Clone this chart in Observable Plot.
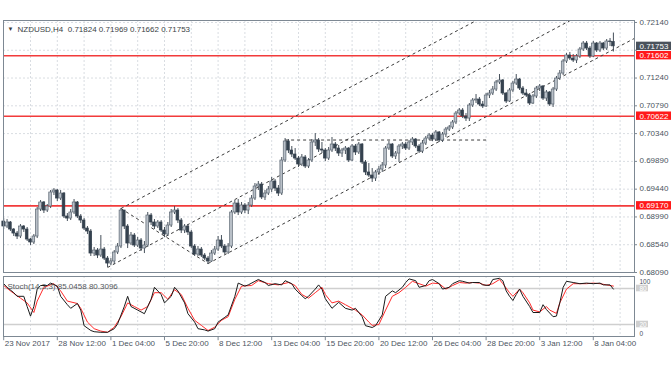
<!DOCTYPE html>
<html><head><meta charset="utf-8">
<script src="https://cdn.jsdelivr.net/npm/d3@7"></script>
<script src="https://cdn.jsdelivr.net/npm/@observablehq/plot@0.6"></script>
<style>
body{margin:0;background:#fff;}
#wrap{position:relative;width:672px;height:372px;overflow:hidden;background:#fff;}
#wrap svg{position:absolute;left:0;}
</style></head><body><div id="wrap"></div>
<script>
// ---------- data ----------
const symbol = "NZDUSD", timeframe = "H4";
const firstOpen = 0.68916;
const closes = [
0.68835,0.68900,0.68786,0.68721,0.68673,0.68835,0.68786,0.68624,0.68576,0.68673,
0.69110,0.69224,0.69094,0.69159,0.69386,0.69418,0.69288,0.69369,0.68997,0.68964,
0.69062,0.69224,0.68997,0.68932,0.68802,0.68754,0.68397,0.68446,0.68365,0.68462,
0.68316,0.68235,0.68268,0.68414,0.68511,0.69094,0.68835,0.68559,0.68689,0.68527,
0.68608,0.68478,0.68527,0.69013,0.68900,0.68835,0.68900,0.68770,0.68705,0.68851,
0.69062,0.69094,0.68932,0.68770,0.68835,0.68738,0.68511,0.68381,0.68462,0.68365,
0.68316,0.68268,0.68397,0.68462,0.68608,0.68511,0.68414,0.68511,0.69062,0.69207,
0.69062,0.69175,0.69094,0.69175,0.69288,0.69483,0.69515,0.69305,0.69369,0.69434,
0.69564,0.69450,0.69369,0.69904,0.70212,0.70066,0.70001,0.69936,0.69839,0.69953,
0.69807,0.69904,0.70196,0.70228,0.70082,0.70066,0.69936,0.70066,0.70163,0.70098,
0.70017,0.70066,0.70098,0.69904,0.70131,0.70034,0.70163,0.69872,0.69710,0.69661,
0.69612,0.69710,0.69758,0.69823,0.70098,0.70163,0.69969,0.70017,0.70131,0.70163,
0.70098,0.70196,0.70244,0.70131,0.70050,0.70179,0.70260,0.70309,0.70244,0.70358,
0.70228,0.70325,0.70406,0.70439,0.70520,0.70665,0.70714,0.70617,0.70584,0.70795,
0.70876,0.70892,0.70811,0.70779,0.70957,0.70989,0.71054,0.71168,0.71200,0.70989,
0.70860,0.71038,0.71151,0.71216,0.71070,0.70989,0.70957,0.70827,0.70941,0.71070,
0.71103,0.70908,0.71006,0.70811,0.71054,0.71232,0.71313,0.71508,0.71605,0.71556,
0.71524,0.71589,0.71702,0.71799,0.71718,0.71589,0.71799,0.71686,0.71799,0.71718,
0.71832,0.71824,0.71753];
const highs = [
0.68964,0.68948,0.68916,0.68802,0.68754,0.68867,0.68851,0.68819,0.68640,0.68705,
0.69143,0.69256,0.69240,0.69191,0.69418,0.69450,0.69434,0.69418,0.69386,0.69045,
0.69110,0.69272,0.69240,0.69029,0.68964,0.68835,0.68786,0.68495,0.68478,0.68689,
0.68495,0.68349,0.68316,0.68446,0.68559,0.69126,0.69094,0.68867,0.68738,0.68721,
0.68657,0.68640,0.68592,0.69062,0.69045,0.68948,0.68932,0.68932,0.68819,0.68900,
0.69110,0.69159,0.69126,0.68964,0.68867,0.68867,0.68770,0.68543,0.68511,0.68495,
0.68397,0.68349,0.68446,0.68511,0.68673,0.68689,0.68543,0.68559,0.69094,0.69256,
0.69272,0.69224,0.69207,0.69224,0.69337,0.69531,0.69564,0.69548,0.69418,0.69483,
0.69629,0.69596,0.69499,0.69953,0.70260,0.70244,0.70131,0.70098,0.69969,0.70001,
0.69985,0.69936,0.70244,0.70341,0.70260,0.70196,0.70098,0.70115,0.70277,0.70196,
0.70147,0.70098,0.70131,0.70115,0.70163,0.70163,0.70196,0.70179,0.69904,0.69855,
0.69774,0.69742,0.69807,0.69872,0.70131,0.70212,0.70179,0.70050,0.70163,0.70196,
0.70196,0.70228,0.70277,0.70260,0.70163,0.70228,0.70293,0.70341,0.70341,0.70390,
0.70374,0.70358,0.70439,0.70471,0.70552,0.70698,0.70746,0.70746,0.70665,0.70827,
0.70908,0.70973,0.70925,0.70860,0.70989,0.71038,0.71103,0.71200,0.71297,0.71216,
0.71006,0.71070,0.71184,0.71297,0.71232,0.71103,0.71054,0.70989,0.70973,0.71103,
0.71135,0.71119,0.71038,0.71022,0.71087,0.71265,0.71362,0.71540,0.71637,0.71654,
0.71621,0.71621,0.71735,0.71832,0.71832,0.71751,0.71832,0.71816,0.71832,0.71816,
0.71864,0.71880,0.71969];
const lows = [
0.68786,0.68802,0.68754,0.68673,0.68624,0.68640,0.68738,0.68592,0.68527,0.68543,
0.68640,0.69078,0.69045,0.69062,0.69126,0.69337,0.69240,0.69256,0.68964,0.68916,
0.68932,0.69029,0.68964,0.68883,0.68770,0.68705,0.68349,0.68349,0.68316,0.68333,
0.68284,0.68171,0.68203,0.68219,0.68381,0.68478,0.68786,0.68478,0.68527,0.68495,
0.68495,0.68430,0.68397,0.68495,0.68851,0.68786,0.68802,0.68738,0.68657,0.68673,
0.68819,0.69029,0.68883,0.68721,0.68721,0.68689,0.68478,0.68349,0.68349,0.68333,
0.68284,0.68219,0.68252,0.68365,0.68430,0.68478,0.68381,0.68381,0.68478,0.69029,
0.69013,0.69029,0.69045,0.69029,0.69143,0.69256,0.69418,0.69272,0.69256,0.69337,
0.69386,0.69402,0.69321,0.69337,0.69872,0.70017,0.69953,0.69904,0.69791,0.69807,
0.69774,0.69774,0.69872,0.70131,0.70034,0.70017,0.69888,0.69904,0.70034,0.70050,
0.69969,0.69953,0.70001,0.69872,0.69888,0.69985,0.70001,0.69839,0.69661,0.69629,
0.69548,0.69564,0.69661,0.69710,0.69774,0.70066,0.69936,0.69920,0.69872,0.70082,
0.70066,0.70066,0.70147,0.70098,0.70017,0.70017,0.70147,0.70228,0.70212,0.70212,
0.70196,0.70196,0.70277,0.70374,0.70406,0.70487,0.70633,0.70584,0.70536,0.70536,
0.70763,0.70827,0.70779,0.70746,0.70763,0.70908,0.70957,0.71022,0.71135,0.70957,
0.70827,0.70844,0.71006,0.71119,0.71038,0.70957,0.70925,0.70795,0.70811,0.70908,
0.71022,0.70876,0.70860,0.70779,0.70763,0.71022,0.71200,0.71281,0.71475,0.71524,
0.71492,0.71475,0.71556,0.71670,0.71686,0.71556,0.71573,0.71654,0.71654,0.71686,
0.71686,0.71751,0.71662];

// horizontal support / resistance levels (red)
const levels = [0.71602, 0.70622, 0.69170];
// price axis grid ticks
const priceTicks = [0.72140,0.71690,0.71240,0.70790,0.70340,0.69890,0.69440,0.68990,0.68540,0.68090];
// time axis labels (bar index of each label)
const timeLabels = ["23 Nov 2017","28 Nov 12:00","1 Dec 04:00","5 Dec 20:00","8 Dec 12:00","13 Dec 04:00","15 Dec 20:00","20 Dec 12:00","26 Dec 04:00","28 Dec 20:00","3 Jan 12:00","8 Jan 04:00"];
const timeLabelBars = [0,16,32,48,64,80,96,112,128,144,160,176];
// drawn trend lines: anchor bar/price pairs, ray = extends to the right
const lineBar1 = [35, 31, 61, 35, 84];
const linePrice1 = [0.69126, 0.68171, 0.68235, 0.69126, 0.70236];
const lineBar2 = [140, 168, 182, 61, 144];
const linePrice2 = [0.72140, 0.72140, 0.71702, 0.68235, 0.70236];
const lineRay = [true, true, true, false, false];

// Stochastic (14,3,3): [bar, value]
const stochLabel = "Stoch(14,3,3) 85.0458 80.3096";
const stochLevels = [80, 20];
const stochMax = 100, stochMin = 0;
const kPoints = [[0,88],[1,82],[3,73],[4,67],[6,67],[7,50],[8,34],[9,50],[10,79],[11,85],[13,85],[14,89],[16,84],[17,67],[19,53],[20,47],[22,55],[23,44],[24,18],[26,10],[27,8],[29,7],[31,7],[33,13],[34,21],[36,50],[37,67],[38,50],[40,44],[41,41],[42,38],[44,62],[45,82],[47,70],[48,56],[50,67],[51,82],[52,76],[54,56],[55,38],[57,24],[58,13],[60,11],[61,9],[63,13],[64,24],[66,32],[67,36],[69,67],[70,89],[72,84],[73,86],[75,92],[76,95],[78,90],[79,85],[81,88],[83,86],[84,93],[86,88],[87,79],[89,68],[90,63],[91,67],[93,79],[94,86],[95,79],[96,63],[98,47],[100,57],[102,47],[104,44],[105,47],[107,33],[108,18],[110,15],[111,18],[113,36],[114,67],[116,76],[117,73],[119,82],[120,90],[121,96],[123,93],[124,82],[126,85],[127,93],[128,95],[130,88],[131,79],[133,82],[134,88],[136,93],[137,92],[139,89],[140,90],[142,90],[143,86],[145,85],[146,95],[148,97],[149,93],[150,76],[151,67],[152,60],[153,70],[154,79],[155,67],[157,50],[158,40],[160,40],[161,53],[162,45],[164,33],[165,34],[166,56],[167,82],[168,92],[170,90],[172,88],[174,89],[176,88],[178,89],[179,86],[181,86],[182,79]];
const dPoints = [[0,85],[2,76],[5,64],[7,56],[9,40],[10,59],[12,82],[15,88],[17,76],[19,59],[22,55],[23,47],[25,24],[27,13],[29,9],[31,7],[33,15.5],[35,33],[37,56],[39,50],[41,44],[43,50],[45,73],[47,73],[49,62],[51,78],[53,70],[55,47],[57,27],[59,18.5],[61,10],[63,15.5],[65,27],[67,33],[69,62],[71,84],[74,85],[76,93],[79,88],[82,86],[85,90],[87,85],[89,70],[91,64],[93,73],[95,82],[96,70],[98,56],[100,59],[102,53],[104,47],[105,44],[107,36],[109,24],[110,18.5],[112,20],[114,44],[116,67],[118,73],[120,82],[122,92],[124,88],[126,84],[128,89],[130,88],[132,79],[134,85],[136,90],[138,89],[140,90],[142,89],[144,85],[146,88],[148,95],[149,88],[151,73],[152,67],[154,79],[155,73],[157,56],[158,44],[160,41],[162,50],[163,44],[165,38.5],[166,56],[168,79],[170,88],[172,88],[174,88],[176,89],[178,88],[180,86],[182,84]];

// ---------- build ----------
const bars = closes.map((c, i) => ({i, open: i === 0 ? firstOpen : closes[i-1], high: highs[i], low: lows[i], close: c}));
const last = bars[bars.length - 1];
const FONT = '"Liberation Sans", Arial, sans-serif';
const TXT = "#4b5460";
const xDomain = [-0.06, 188.3];
const pxPerBar = 631 / (xDomain[1] - xDomain[0]);
const bx = px => px / pxPerBar;
const yDomain = [0.68090, 0.72172];
const pxPerPrice = 252 / (yDomain[1] - yDomain[0]);
const bp = px => px / pxPerPrice;
const gridBars = d3.range(8, 188, 8);

const lines = lineBar1.map((b1, k) => {
  const b2 = lineBar2[k], p1 = linePrice1[k], p2 = linePrice2[k];
  const slope = (p2 - p1) / (b2 - b1);
  const end = lineRay[k] ? xDomain[1] + 2 : b2;
  return {x1: b1, y1: p1, x2: end, y2: p1 + slope * (end - b1)};
});

const boxX1 = xDomain[1] + bx(2), boxX2 = xDomain[1] + bx(37);
const priceBoxes = [
  {p: last.close, fill: "#4a525c"},
  ...levels.map(p => ({p, fill: "#ff1a1a"}))
];
// tick labels that sit under a price box are covered (not shown)
const priceLabels = priceTicks.filter(t => priceBoxes.every(b => Math.abs(b.p - t) > bp(7)));

const main = Plot.plot({
  width: 672, height: 276,
  marginLeft: 3, marginRight: 38, marginTop: 20, marginBottom: 4,
  x: {domain: xDomain, axis: null},
  y: {domain: yDomain, axis: null},
  style: {fontFamily: FONT, fontSize: "8px", background: "transparent", overflow: "visible"},
  marks: [
    Plot.ruleY(priceTicks, {stroke: "#d9dde2", strokeDasharray: "2,2"}),
    Plot.ruleX(gridBars, {stroke: "#d9dde2", strokeDasharray: "2,2"}),
    Plot.ruleY(levels, {stroke: "#f23b3b", strokeWidth: 1.6}),
    Plot.link(lines, {x1: "x1", y1: "y1", x2: "x2", y2: "y2", stroke: "#3c3c3c", strokeWidth: 1, strokeDasharray: "3,3", clip: true}),
    Plot.ruleX(bars, {x: "i", y1: "low", y2: "high", stroke: "#46505b", strokeWidth: 1}),
    Plot.rect(bars, {x1: d => d.i - 0.4, x2: d => d.i + 0.4, y1: "open", y2: "close",
      fill: d => d.close >= d.open ? "#b9c0c8" : "#35424f",
      stroke: d => d.close >= d.open ? "#5d6874" : "#35424f", strokeWidth: 0.7}),
    Plot.frame({stroke: "#7d8893"}),
    Plot.ruleY(priceTicks, {x1: xDomain[1], x2: xDomain[1] + bx(3), stroke: "#7d8893"}),
    Plot.text(priceLabels, {y: d => d, frameAnchor: "right", dx: 5, dy: -0.5, textAnchor: "start", text: d => d.toFixed(5), fill: TXT, fontSize: 8}),
    Plot.rect(priceBoxes, {x1: boxX1, x2: boxX2, y1: d => d.p - bp(4.2), y2: d => d.p + bp(4.2), fill: "fill"}),
    Plot.text(priceBoxes, {y: "p", frameAnchor: "right", dx: 5, textAnchor: "start", text: d => d.p.toFixed(5), fill: "#fff", fontSize: 8}),
    Plot.text(["\u25BC"], {frameAnchor: "top-left", dx: 4, dy: 6, fill: "#3a3a3a", fontSize: 6}),
    Plot.text([`${symbol},${timeframe}  ${last.open.toFixed(5)} ${last.high.toFixed(5)} ${last.low.toFixed(5)} ${last.close.toFixed(5)}`],
      {frameAnchor: "top-left", dx: 14, dy: 6, textAnchor: "start", fill: "#3a3f45", fontSize: 8})
  ]
});
main.style.top = "0px";

const stoch = Plot.plot({
  width: 672, height: 100,
  marginLeft: 3, marginRight: 38, marginTop: 4, marginBottom: 36,
  x: {domain: xDomain, axis: null},
  y: {domain: [stochMin, stochMax], axis: null},
  style: {fontFamily: FONT, fontSize: "8px", background: "transparent", overflow: "visible"},
  marks: [
    Plot.ruleX(gridBars, {stroke: "#d9dde2", strokeDasharray: "2,2"}),
    Plot.ruleY(stochLevels, {stroke: "#cfcfcf", strokeWidth: 1.6}),
    Plot.line(dPoints, {x: d => d[0], y: d => d[1], stroke: "#ff2a2a", strokeWidth: 1}),
    Plot.line(kPoints, {x: d => d[0], y: d => d[1], stroke: "#1a1a1a", strokeWidth: 1}),
    Plot.frame({stroke: "#7d8893"}),
    Plot.text([stochLabel], {frameAnchor: "top-left", dx: 4, dy: 7, textAnchor: "start", fill: "#55595e", fontSize: 8}),
    Plot.text([stochMax], {y: d => d, frameAnchor: "right", dx: 5, dy: 5, textAnchor: "start", text: d => String(d), fill: TXT, fontSize: 6.5}),
    Plot.text([stochMin], {y: d => d, frameAnchor: "right", dx: 5, dy: -3, textAnchor: "start", text: d => String(d), fill: TXT, fontSize: 6.5}),
    Plot.rect(stochLevels, {x1: boxX1, x2: xDomain[1] + bx(14), y1: d => d - 5.5, y2: d => d + 5.5, fill: "#cfcfcf"}),
    Plot.text(stochLevels, {y: d => d, frameAnchor: "right", dx: 5, dy: 0.8, textAnchor: "start", text: d => String(d), fill: "#fff", fontSize: 6.5}),
    Plot.ruleX(timeLabelBars, {y1: 0, y2: -7, stroke: "#7d8893"}),
    Plot.text(timeLabels, {x: (d, k) => timeLabelBars[k], frameAnchor: "bottom", dy: 9, dx: 1, textAnchor: "start", fill: TXT, fontSize: 8})
  ]
});
stoch.style.top = "272px";

const wrap = document.getElementById("wrap");
wrap.appendChild(main);
wrap.appendChild(stoch);
</script></body></html>
